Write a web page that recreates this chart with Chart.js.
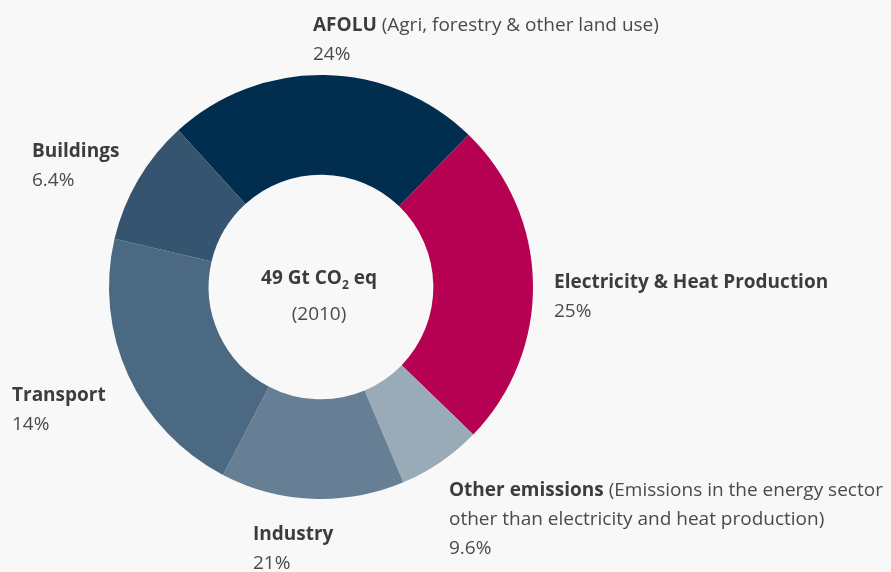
<!DOCTYPE html>
<html>
<head>
<meta charset="utf-8">
<script src="https://cdn.jsdelivr.net/npm/chart.js@4"></script>
<style>
    html, body { margin: 0; padding: 0; background: #f8f8f8; }
    #chart { display: block; }
</style>
</head>
<body>
<canvas id="chart" width="891" height="572"></canvas>
<script>
// slice order, clockwise from the top-left edge of AFOLU
const categories = ['AFOLU', 'Electricity & Heat Production', 'Other emissions', 'Industry', 'Transport', 'Buildings'];
const sliceValues = [24, 25, 6.4, 14, 21, 9.6];
const colors = ['#012d4e', '#b60052', '#9aabb8', '#667f94', '#4b6982', '#35546f'];

// label texts as printed on the chart
const labelNotes = ['(Agri, forestry & other land use)', '', '(Emissions in the energy sector', '', '', ''];
const labelNotes2 = ['', '', 'other than electricity and heat production)', '', '', ''];
const labelPercents = ['24%', '25%', '9.6%', '21%', '14%', '6.4%'];

const centerTitle = '49 Gt CO';
const centerYear = '(2010)';

// where each label block sits (left x, first baseline)
const labelPos = [
    [313, 31], [554, 288], [449, 496], [253, 540], [12, 401], [32, 157]
];

const FONT = '"Open Sans", "Noto Sans", sans-serif';
const LINE = 29;

const labelsPlugin = {
    id: 'outerLabels',
    afterDraw(chart) {
        const ctx = chart.ctx;
        ctx.save();
        ctx.textBaseline = 'alphabetic';
        ctx.textAlign = 'left';

        categories.forEach((name, i) => {
            let [x, y] = labelPos[i];
            ctx.font = 'bold 19px ' + FONT;
            ctx.fillStyle = '#3c3c3c';
            ctx.fillText(name, x, y);
            if (labelNotes[i]) {
                const w = ctx.measureText(name + ' ').width;
                ctx.font = '19px ' + FONT;
                ctx.fillStyle = '#4a4a4a';
                ctx.fillText(labelNotes[i], x + w, y);
            }
            ctx.font = '19px ' + FONT;
            ctx.fillStyle = '#4a4a4a';
            if (labelNotes2[i]) {
                y += LINE;
                ctx.fillText(labelNotes2[i], x, y);
            }
            ctx.fillText(labelPercents[i], x, y + LINE);
        });

        // centre text
        const cx = (chart.chartArea.left + chart.chartArea.right) / 2 - 2;
        const cy = (chart.chartArea.top + chart.chartArea.bottom) / 2;
        ctx.font = 'bold 19px ' + FONT;
        const w1 = ctx.measureText(centerTitle).width;
        ctx.font = 'bold 12px ' + FONT;
        const w2 = ctx.measureText('2').width;
        ctx.font = 'bold 19px ' + FONT;
        const w3 = ctx.measureText(' eq').width;
        let sx = cx - (w1 + w2 + w3) / 2;
        ctx.fillStyle = '#3c3c3c';
        ctx.fillText(centerTitle, sx, cy - 3);
        ctx.font = 'bold 12px ' + FONT;
        ctx.fillText('2', sx + w1, cy + 2);
        ctx.font = 'bold 19px ' + FONT;
        ctx.fillText(' eq', sx + w1 + w2, cy - 3);

        ctx.font = '19px ' + FONT;
        ctx.fillStyle = '#4a4a4a';
        ctx.textAlign = 'center';
        ctx.fillText(centerYear, cx, cy + 33);
        ctx.restore();
    }
};

new Chart(document.getElementById('chart').getContext('2d'), {
    type: 'doughnut',
    data: {
        labels: categories,
        datasets: [{
            data: sliceValues,
            backgroundColor: colors,
            borderWidth: 0
        }]
    },
    options: {
        responsive: false,
        animation: false,
        rotation: -42.3,
        cutout: '53%',
        layout: { padding: { left: 109, top: 75, right: 358, bottom: 73 } },
        plugins: {
            legend: { display: false },
            tooltip: { enabled: false }
        }
    },
    plugins: [labelsPlugin]
});
</script>
</body>
</html>
